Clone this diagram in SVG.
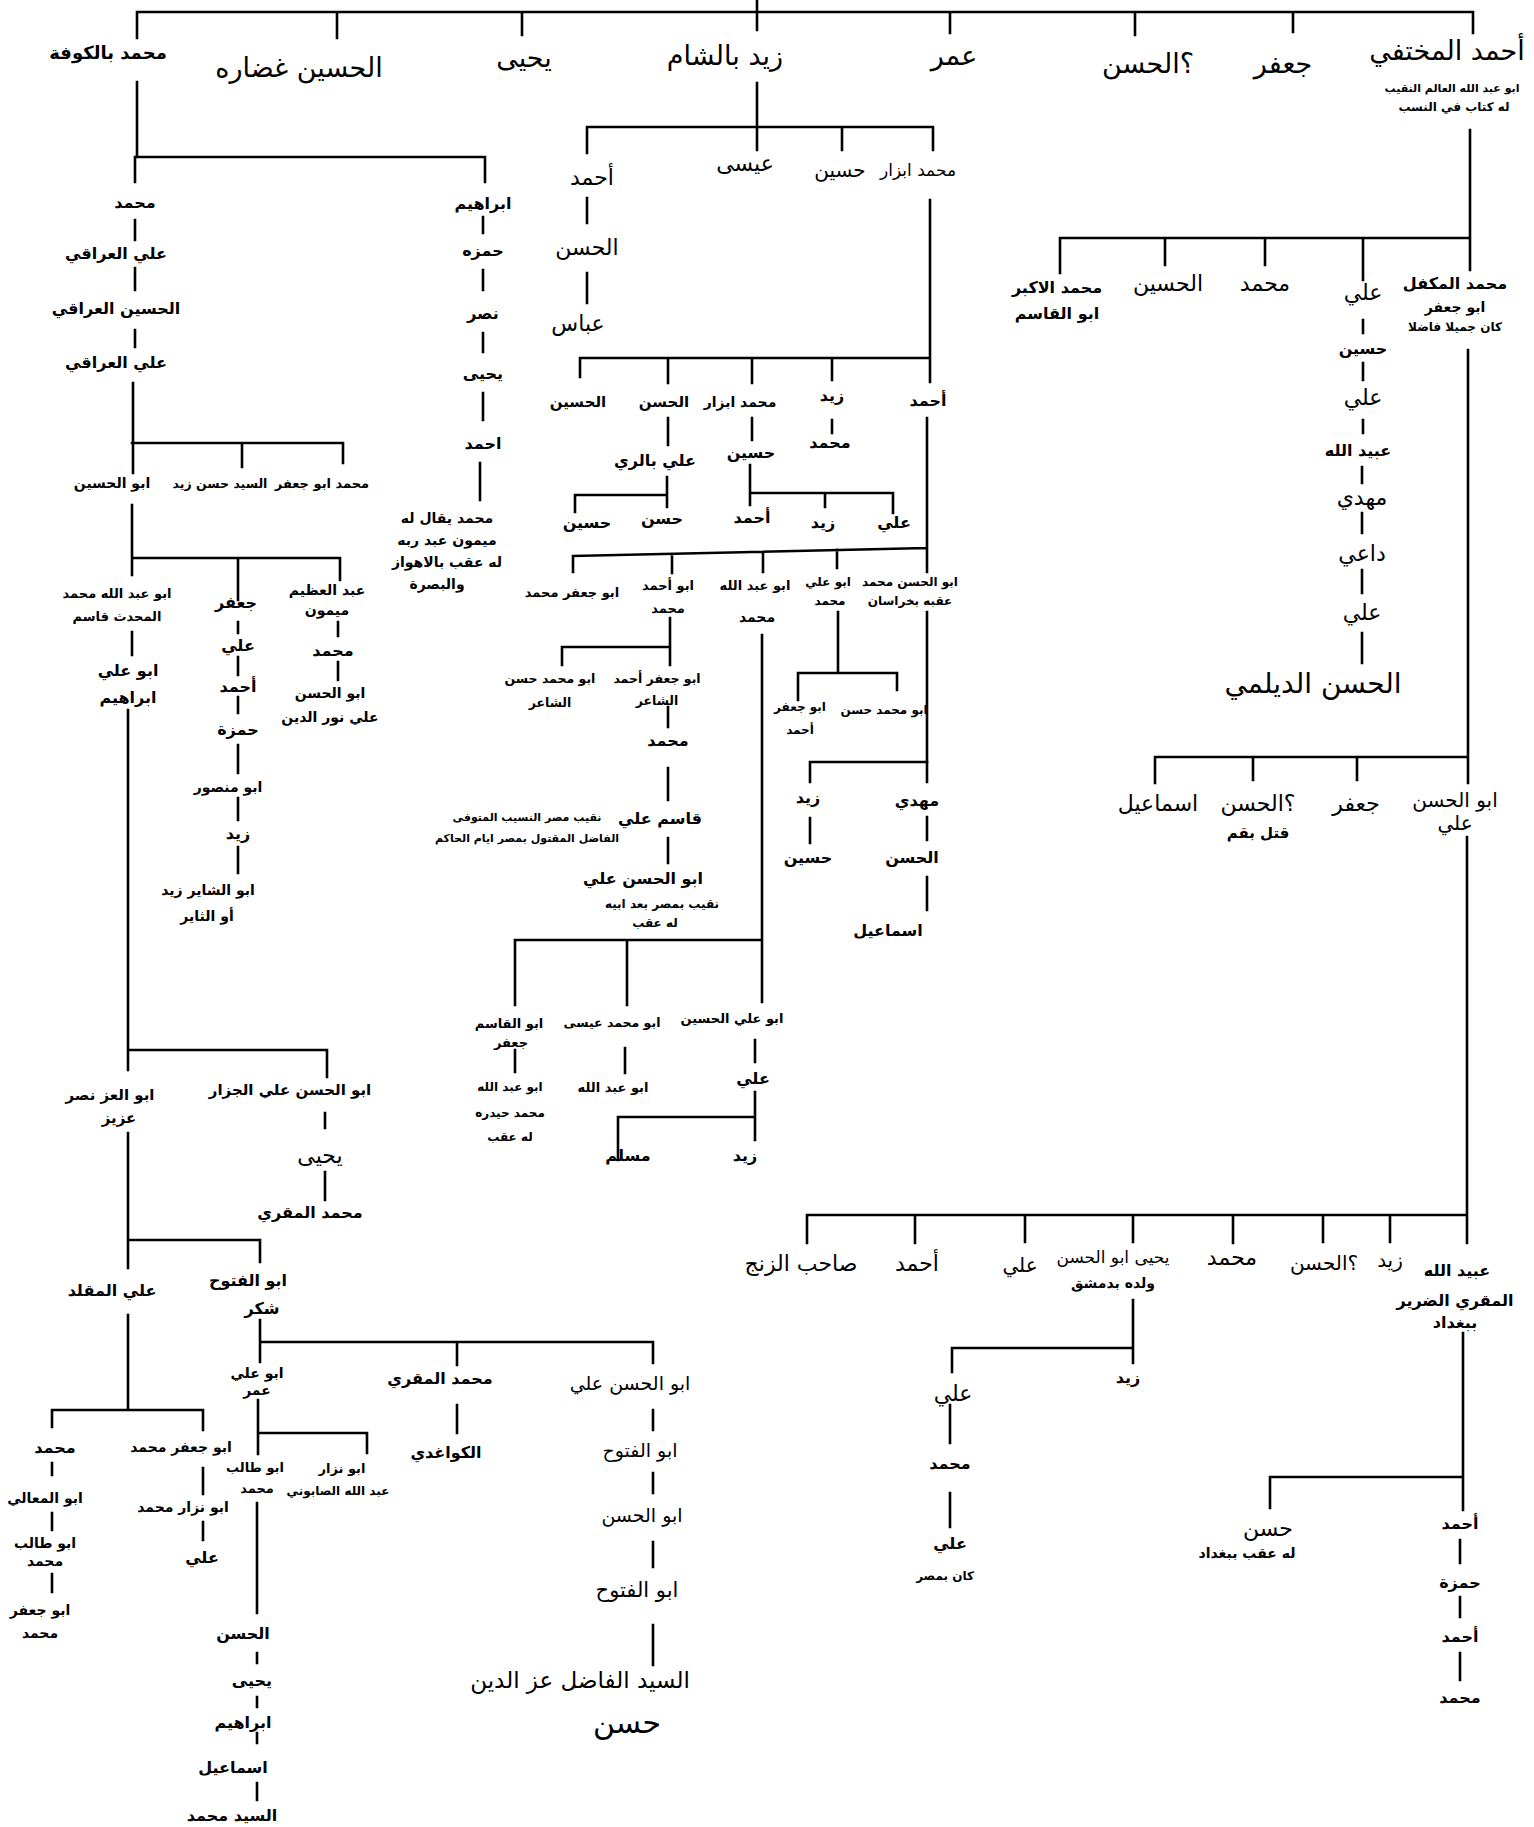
<svg xmlns="http://www.w3.org/2000/svg" width="1534" height="1827" viewBox="0 0 1534 1827">
<style>
text{font-family:"DejaVu Sans","Noto Sans",sans-serif;fill:#000;text-anchor:middle;dominant-baseline:central}
.L{font-size:27px}
.M{font-size:22px}
.S{font-size:16px;font-weight:bold}
.X{font-size:12px;font-weight:bold}
.c path{stroke:#000;stroke-width:2.6;fill:none;stroke-linecap:square}
</style>
<rect width="1534" height="1827" fill="#fff"/>
<g id="connectors" class="c">
<path d="M137 38V12H1473V33M757 0V30M337 12V38M522 12V35M950 12V33M1135 12V35M1293 12V32"/>
<path d="M137 82V157M135 157H485V182M135 157V182M135 220V240M135 268V290M135 330V347M133 383V473M132 443H343V463M242 443V467"/>
<path d="M132 505V575M132 558H340V580M238 558V600M132 632V655M128 710V1070M128 1050H327V1077"/>
<path d="M238 622V633M238 657V675M238 697V713M238 745V773M238 798V820M238 847V873M338 622V636M338 662V680"/>
<path d="M483 217V233M483 270V290M483 333V352M483 393V420M480 463V500"/>
<path d="M325 1113V1128M325 1172V1200M128 1133V1268M128 1240H260V1262M128 1315V1410M52 1410H203M52 1410V1427M203 1410V1430M52 1463V1475M52 1513V1530M52 1574V1592M203 1468V1494M203 1522V1540"/>
<path d="M260 1320V1362M260 1342H653V1363M457 1342V1365M457 1405V1433M258 1400V1454M258 1433H367V1453M257 1503V1613M257 1653V1663M257 1697V1707M257 1733V1743M257 1783V1800"/>
<path d="M653 1410V1430M653 1473V1493M653 1542V1567M653 1625V1665"/>
<path d="M757 83V127M587 127H933V150M587 127V153M757 127V150M842 127V150M587 198V223M587 273V303M930 200V358M580 358H930V382M580 358V377M668 358V383M752 358V383M832 358V380M832 420V433M752 418V440M668 418V445"/>
<path d="M667 477V495M575 495H667V507M575 495V512M750 465V505M750 493H893V513M825 493V507"/>
<path d="M927 418V572M573 556L927 548M573 556V572M672 554V573M763 552V572M837 550V568M927 612V782"/>
<path d="M670 618V665M562 647H670M562 647V665M668 707V727M668 768V800M668 838V863"/>
<path d="M762 635V1002M515 940H762M515 940V1005M627 940V1005M515 1050V1072M625 1048V1073M755 1040V1062M755 1092V1140M618 1117H755M618 1117V1160"/>
<path d="M838 612V673M798 673H897V690M798 673V700M810 762H927M810 762V782M810 818V843M927 817V840M927 877V910"/>
<path d="M1470 130V238M1060 238H1470M1060 238V273M1165 238V265M1265 238V265M1363 238V280M1470 238V270M1363 320V333M1363 363V380M1363 420V433M1362 467V483M1362 513V533M1362 570V593M1362 633V663"/>
<path d="M1468 350V783M1155 757H1468M1155 757V783M1253 757V780M1357 757V780M1467 837V1243M807 1215H1467M807 1215V1243M915 1215V1243M1025 1215V1242M1133 1215V1242M1233 1215V1243M1323 1215V1242M1390 1215V1242"/>
<path d="M1133 1300V1363M952 1348H1133M952 1348V1372M950 1405V1443M950 1493V1527M1463 1333V1510M1270 1477H1463M1270 1477V1508M1460 1540V1563M1460 1597V1617M1460 1653V1680"/>
</g>

<g id="n-muhammad-kufa"><text class="S" x="108" y="52" style="font-size:18px">محمد بالكوفة</text></g>
<g id="n-husayn-ghadara"><text class="L" x="299" y="67">الحسين غضاره</text></g>
<g id="n-yahya"><text class="L" x="524" y="57">يحيى</text></g>
<g id="n-zayd-sham"><text class="L" x="725" y="55">زيد بالشام</text></g>
<g id="n-umar"><text class="L" x="954" y="55">عمر</text></g>
<g id="n-hasan-top"><text class="L" x="1148" y="63">؟الحسن</text></g>
<g id="n-jafar-top"><text class="L" x="1283" y="63">جعفر</text></g>
<g id="n-ahmad-mukhtafi"><text class="L" x="1447" y="50">أحمد المختفي</text><text class="X" x="1452" y="88" style="font-size:11px">ابو عبد الله العالم النقيب</text><text class="X" x="1454" y="107">له كتاب في النسب</text></g>

<g id="n-muhammad-1"><text class="S" x="135" y="202">محمد</text></g>
<g id="n-ali-iraqi-1"><text class="S" x="116" y="253">علي العراقي</text></g>
<g id="n-husayn-iraqi"><text class="S" x="116" y="308">الحسين العراقي</text></g>
<g id="n-ali-iraqi-2"><text class="S" x="116" y="362">علي العراقي</text></g>
<g id="n-abul-husayn"><text class="S" x="112" y="483" style="font-size:14px">ابو الحسين</text></g>
<g id="n-sayyid-hasan-zayd"><text class="S" x="220" y="483" style="font-size:12.5px">السيد حسن زيد</text></g>
<g id="n-muhammad-abu-jafar"><text class="S" x="322" y="483" style="font-size:13px">محمد ابو جعفر</text></g>
<g id="n-abu-abdallah-qasim"><text class="S" x="117" y="593" style="font-size:13px">ابو عبد الله محمد</text><text class="S" x="117" y="616" style="font-size:13px">المحدث قاسم</text></g>
<g id="n-jafar-l"><text class="S" x="236" y="602">جعفر</text></g>
<g id="n-abd-azim"><text class="S" x="327" y="590" style="font-size:14px">عبد العظيم</text><text class="S" x="327" y="610" style="font-size:14px">ميمون</text></g>
<g id="n-muhammad-l2"><text class="S" x="333" y="650">محمد</text></g>
<g id="n-abul-hasan-nur"><text class="S" x="330" y="693" style="font-size:14px">ابو الحسن</text><text class="S" x="330" y="717" style="font-size:14px">علي نور الدين</text></g>
<g id="n-ali-l3"><text class="S" x="238" y="645">علي</text></g>
<g id="n-ahmad-l3"><text class="S" x="238" y="686">أحمد</text></g>
<g id="n-hamza-l3"><text class="S" x="238" y="729">حمزة</text></g>
<g id="n-abu-mansur"><text class="S" x="228" y="787" style="font-size:14px">ابو منصور</text></g>
<g id="n-zayd-l3"><text class="S" x="238" y="833">زيد</text></g>
<g id="n-abu-shayir"><text class="S" x="208" y="890" style="font-size:14px">ابو الشاير زيد</text><text class="S" x="207" y="916" style="font-size:14px">أو الثاير</text></g>
<g id="n-abu-ali-ibrahim"><text class="S" x="128" y="670">ابو علي</text><text class="S" x="128" y="697">ابراهيم</text></g>

<g id="n-ibrahim"><text class="S" x="483" y="203">ابراهيم</text></g>
<g id="n-hamza-i"><text class="S" x="483" y="250">حمزه</text></g>
<g id="n-nasr"><text class="S" x="483" y="313">نصر</text></g>
<g id="n-yahya-i"><text class="S" x="483" y="373">يحيى</text></g>
<g id="n-ahmad-i"><text class="S" x="483" y="443">احمد</text></g>
<g id="n-muhammad-maymun"><text class="X" x="447" y="518" style="font-size:14px">محمد يقال له</text><text class="X" x="447" y="540" style="font-size:14px">ميمون عبد ربه</text><text class="X" x="447" y="562" style="font-size:14px">له عقب بالاهواز</text><text class="X" x="437" y="584" style="font-size:14px">والبصرة</text></g>

<g id="n-abul-izz"><text class="S" x="110" y="1095" style="font-size:15px">ابو العز نصر</text><text class="S" x="119" y="1118" style="font-size:15px">عزيز</text></g>
<g id="n-abul-hasan-jazzar"><text class="S" x="290" y="1090" style="font-size:15px">ابو الحسن علي الجزار</text></g>
<g id="n-yahya-j"><text class="M" x="320" y="1155">يحيى</text></g>
<g id="n-muhammad-muqri-1"><text class="S" x="310" y="1212">محمد المقري</text></g>
<g id="n-ali-muqallad"><text class="S" x="112" y="1290">علي المقلد</text></g>
<g id="n-abul-futuh-shukr"><text class="S" x="248" y="1280">ابو الفتوح</text><text class="S" x="262" y="1308">شكر</text></g>
<g id="n-muhammad-ll"><text class="S" x="55" y="1447">محمد</text></g>
<g id="n-abul-maali"><text class="S" x="45" y="1498" style="font-size:14px">ابو المعالي</text></g>
<g id="n-abu-talib-ll"><text class="S" x="45" y="1543" style="font-size:14px">ابو طالب</text><text class="S" x="45" y="1561" style="font-size:14px">محمد</text></g>
<g id="n-abu-jafar-ll"><text class="S" x="40" y="1610" style="font-size:14px">ابو جعفر</text><text class="S" x="40" y="1633" style="font-size:14px">محمد</text></g>
<g id="n-abu-jafar-muhammad-l"><text class="S" x="181" y="1447" style="font-size:14px">ابو جعفر محمد</text></g>
<g id="n-abu-nizar-muhammad"><text class="S" x="183" y="1507" style="font-size:14px">ابو نزار محمد</text></g>
<g id="n-ali-ll"><text class="S" x="202" y="1557">علي</text></g>
<g id="n-abu-ali-umar"><text class="S" x="257" y="1373" style="font-size:14px">ابو علي</text><text class="S" x="257" y="1390" style="font-size:14px">عمر</text></g>
<g id="n-muhammad-muqri-2"><text class="S" x="440" y="1378">محمد المقري</text></g>
<g id="n-kawaghidi"><text class="S" x="446" y="1452">الكواغدي</text></g>
<g id="n-abu-talib-u"><text class="S" x="255" y="1467" style="font-size:13px">ابو طالب</text><text class="S" x="257" y="1488" style="font-size:13px">محمد</text></g>
<g id="n-abu-nizar-sabuni"><text class="S" x="342" y="1468" style="font-size:13px">ابو نزار</text><text class="S" x="338" y="1491" style="font-size:12px">عبد الله الصابوني</text></g>
<g id="n-hasan-u"><text class="S" x="243" y="1633">الحسن</text></g>
<g id="n-yahya-u"><text class="S" x="252" y="1680">يحيى</text></g>
<g id="n-ibrahim-u"><text class="S" x="243" y="1722">ابراهيم</text></g>
<g id="n-ismail-u"><text class="S" x="233" y="1767">اسماعيل</text></g>
<g id="n-sayyid-muhammad"><text class="S" x="232" y="1815">السيد محمد</text></g>
<g id="n-abul-hasan-ali-f"><text class="M" x="630" y="1383" style="font-size:19px">ابو الحسن علي</text></g>
<g id="n-abul-futuh-1"><text class="M" x="640" y="1450" style="font-size:19px">ابو الفتوح</text></g>
<g id="n-abul-hasan-f"><text class="M" x="642" y="1515" style="font-size:19px">ابو الحسن</text></g>
<g id="n-abul-futuh-2"><text class="M" x="637" y="1590" style="font-size:21px">ابو الفتوح</text></g>
<g id="n-sayyid-izz"><text class="M" x="580" y="1680" style="font-size:23px">السيد الفاضل عز الدين</text><text class="L" x="627" y="1722" style="font-size:30px">حسن</text></g>

<g id="n-ahmad-z"><text class="M" x="592" y="177">أحمد</text></g>
<g id="n-hasan-z"><text class="M" x="587" y="247">الحسن</text></g>
<g id="n-abbas"><text class="M" x="578" y="323">عباس</text></g>
<g id="n-isa"><text class="M" x="745" y="163">عيسى</text></g>
<g id="n-husayn-z"><text class="M" x="840" y="170" style="font-size:20px">حسين</text></g>
<g id="n-muhammad-abzar"><text class="M" x="918" y="170" style="font-size:17px">محمد ابزار</text></g>
<g id="n-husayn-z2"><text class="S" x="578" y="402" style="font-size:15px">الحسين</text></g>
<g id="n-hasan-z2"><text class="S" x="664" y="402" style="font-size:15px">الحسن</text></g>
<g id="n-muhammad-abzar-2"><text class="S" x="740" y="402" style="font-size:14px">محمد ابزار</text></g>
<g id="n-zayd-z2"><text class="S" x="832" y="395">زيد</text></g>
<g id="n-ahmad-z2"><text class="S" x="928" y="400">أحمد</text></g>
<g id="n-muhammad-z3"><text class="S" x="830" y="442">محمد</text></g>
<g id="n-husayn-z3"><text class="S" x="751" y="452">حسين</text></g>
<g id="n-ali-rayy"><text class="S" x="655" y="460">علي بالري</text></g>
<g id="n-husayn-r"><text class="S" x="587" y="522">حسين</text></g>
<g id="n-hasan-r"><text class="S" x="662" y="518">حسن</text></g>
<g id="n-ahmad-h"><text class="S" x="752" y="517">أحمد</text></g>
<g id="n-zayd-h"><text class="S" x="823" y="522">زيد</text></g>
<g id="n-ali-h"><text class="S" x="894" y="522">علي</text></g>
<g id="n-abu-jafar-muhammad-z"><text class="S" x="572" y="592" style="font-size:13px">ابو جعفر محمد</text></g>
<g id="n-abu-ahmad-muhammad"><text class="S" x="668" y="585" style="font-size:13px">ابو أحمد</text><text class="S" x="668" y="608" style="font-size:13px">محمد</text></g>
<g id="n-abu-abdallah-muhammad"><text class="S" x="755" y="585" style="font-size:13px">ابو عبد الله</text><text class="S" x="757" y="617" style="font-size:14px">محمد</text></g>
<g id="n-abu-ali-muhammad"><text class="S" x="828" y="582" style="font-size:12px">ابو علي</text><text class="S" x="830" y="601" style="font-size:12px">محمد</text></g>
<g id="n-abul-hasan-khurasan"><text class="S" x="910" y="582" style="font-size:12px">ابو الحسن محمد</text><text class="S" x="910" y="601" style="font-size:12px">عقبه بخراسان</text></g>
<g id="n-abu-muhammad-hasan-shair"><text class="S" x="550" y="678" style="font-size:12.5px">ابو محمد حسن</text><text class="S" x="550" y="702" style="font-size:12.5px">الشاعر</text></g>
<g id="n-abu-jafar-ahmad-shair"><text class="S" x="657" y="678" style="font-size:12.5px">ابو جعفر أحمد</text><text class="S" x="657" y="700" style="font-size:12.5px">الشاعر</text></g>
<g id="n-muhammad-s"><text class="S" x="668" y="740">محمد</text></g>
<g id="n-qasim-ali"><text class="S" x="660" y="818">قاسم علي</text><text class="X" x="527" y="817" style="font-size:11px">نقيب مصر النسيب المتوفى</text><text class="X" x="527" y="838" style="font-size:11px">الفاضل المقتول بمصر ايام الحاكم</text></g>
<g id="n-abul-hasan-ali-naqib"><text class="S" x="643" y="878">ابو الحسن علي</text><text class="X" x="662" y="904">نقيب بمصر بعد ابيه</text><text class="X" x="655" y="923">له عقب</text></g>
<g id="n-abul-qasim-jafar"><text class="S" x="509" y="1023" style="font-size:13px">ابو القاسم</text><text class="S" x="511" y="1042" style="font-size:13px">جعفر</text></g>
<g id="n-abu-abdallah-haydara"><text class="X" x="510" y="1087">ابو عبد الله</text><text class="X" x="510" y="1113">محمد حيدره</text><text class="X" x="510" y="1137">له عقب</text></g>
<g id="n-abu-muhammad-isa"><text class="S" x="612" y="1022" style="font-size:12.5px">ابو محمد عيسى</text></g>
<g id="n-abu-abdallah-2"><text class="S" x="613" y="1087" style="font-size:13px">ابو عبد الله</text></g>
<g id="n-abu-ali-husayn"><text class="S" x="732" y="1018" style="font-size:13px">ابو علي الحسين</text></g>
<g id="n-ali-ah"><text class="S" x="753" y="1078">علي</text></g>
<g id="n-muslim"><text class="S" x="628" y="1155">مسلم</text></g>
<g id="n-zayd-ah"><text class="S" x="745" y="1155">زيد</text></g>
<g id="n-abu-jafar-ahmad"><text class="S" x="800" y="707" style="font-size:12px">ابو جعفر</text><text class="S" x="800" y="730" style="font-size:12px">أحمد</text></g>
<g id="n-abu-muhammad-hasan"><text class="S" x="884" y="710" style="font-size:12px">ابو محمد حسن</text></g>
<g id="n-zayd-k"><text class="S" x="808" y="797">زيد</text></g>
<g id="n-mahdi-k"><text class="S" x="917" y="800">مهدي</text></g>
<g id="n-husayn-k"><text class="S" x="808" y="857">حسين</text></g>
<g id="n-hasan-k"><text class="S" x="912" y="857">الحسن</text></g>
<g id="n-ismail-k"><text class="S" x="888" y="930">اسماعيل</text></g>

<g id="n-muhammad-akbar"><text class="S" x="1057" y="287">محمد الاكبر</text><text class="S" x="1057" y="313">ابو القاسم</text></g>
<g id="n-husayn-r1"><text class="M" x="1168" y="283">الحسين</text></g>
<g id="n-muhammad-r1"><text class="M" x="1265" y="283">محمد</text></g>
<g id="n-ali-r1"><text class="M" x="1363" y="292">علي</text></g>
<g id="n-muhammad-mukaffal"><text class="S" x="1455" y="283">محمد المكفل</text><text class="X" x="1455" y="307" style="font-size:14px">ابو جعفر</text><text class="X" x="1455" y="327">كان جميلا فاضلا</text></g>
<g id="n-husayn-r2"><text class="S" x="1363" y="348">حسين</text></g>
<g id="n-ali-r2"><text class="M" x="1363" y="397">علي</text></g>
<g id="n-ubaydallah-r"><text class="S" x="1358" y="450">عبيد الله</text></g>
<g id="n-mahdi-r"><text class="M" x="1362" y="497">مهدي</text></g>
<g id="n-dai"><text class="M" x="1362" y="553">داعي</text></g>
<g id="n-ali-r3"><text class="M" x="1362" y="612">علي</text></g>
<g id="n-hasan-daylami"><text class="L" x="1313" y="683" style="font-size:28px">الحسن الديلمي</text></g>
<g id="n-ismail-r"><text class="M" x="1158" y="803">اسماعيل</text></g>
<g id="n-hasan-qum"><text class="M" x="1258" y="803">؟الحسن</text><text class="S" x="1258" y="833" style="font-size:15px">قتل بقم</text></g>
<g id="n-jafar-r"><text class="M" x="1356" y="803">جعفر</text></g>
<g id="n-abul-hasan-ali-r"><text class="M" x="1455" y="800" style="font-size:20px">ابو الحسن</text><text class="M" x="1455" y="823" style="font-size:20px">علي</text></g>
<g id="n-sahib-zanj"><text class="M" x="801" y="1263">صاحب الزنج</text></g>
<g id="n-ahmad-b"><text class="M" x="917" y="1263">أحمد</text></g>
<g id="n-ali-b"><text class="M" x="1020" y="1265" style="font-size:20px">علي</text></g>
<g id="n-yahya-dimashq"><text class="M" x="1113" y="1257" style="font-size:17px">يحيى ابو الحسن</text><text class="S" x="1113" y="1283" style="font-size:14px">ولده بدمشق</text></g>
<g id="n-muhammad-b"><text class="M" x="1232" y="1257">محمد</text></g>
<g id="n-hasan-b"><text class="M" x="1324" y="1263" style="font-size:20px">؟الحسن</text></g>
<g id="n-zayd-b"><text class="M" x="1390" y="1260" style="font-size:20px">زيد</text></g>
<g id="n-ubaydallah-baghdad"><text class="S" x="1457" y="1270">عبيد الله</text><text class="S" x="1455" y="1300">المقري الضرير</text><text class="S" x="1455" y="1322">ببغداد</text></g>
<g id="n-zayd-y"><text class="S" x="1128" y="1377">زيد</text></g>
<g id="n-ali-y"><text class="M" x="953" y="1393">علي</text></g>
<g id="n-muhammad-y"><text class="S" x="950" y="1463">محمد</text></g>
<g id="n-ali-misr"><text class="S" x="950" y="1543">علي</text><text class="X" x="945" y="1576">كان بمصر</text></g>
<g id="n-hasan-baghdad"><text class="M" x="1268" y="1528">حسن</text><text class="X" x="1247" y="1553" style="font-size:14px">له عقب ببغداد</text></g>
<g id="n-ahmad-u1"><text class="S" x="1460" y="1523">أحمد</text></g>
<g id="n-hamza-u"><text class="S" x="1460" y="1582">حمزة</text></g>
<g id="n-ahmad-u2"><text class="S" x="1460" y="1636">أحمد</text></g>
<g id="n-muhammad-u"><text class="S" x="1460" y="1697">محمد</text></g>
</svg>
